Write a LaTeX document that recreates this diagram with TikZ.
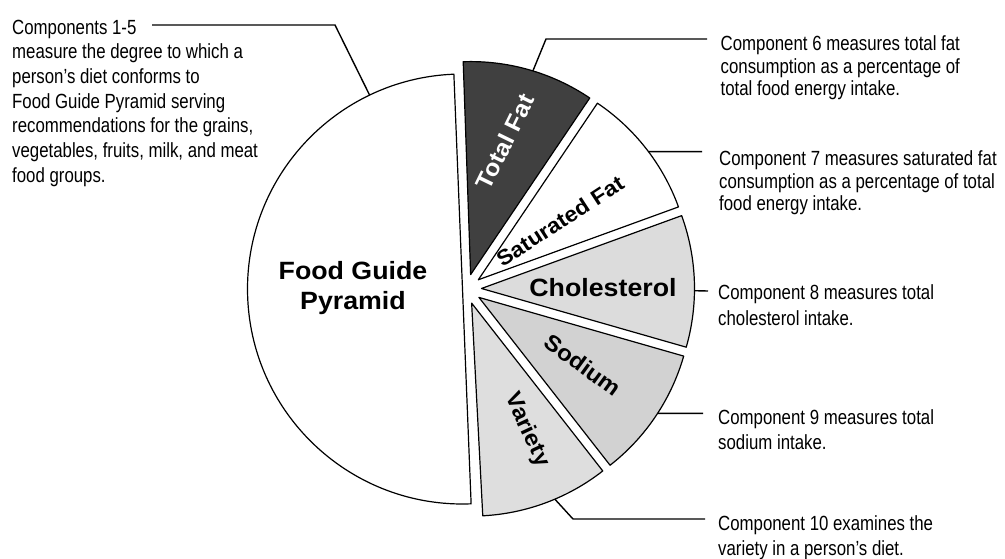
\documentclass[tikz,border=0pt]{standalone}
\usepackage{fontspec}
\setmainfont{Liberation Sans}
\newfontfamily\narrowfont[FakeStretch=0.82]{Liberation Sans}
\newfontfamily\boldlabelfont[FakeStretch=1.07]{Liberation Sans}
\usetikzlibrary{calc}
\definecolor{tfgray}{RGB}{64,64,64}
\definecolor{chgray}{RGB}{220,220,220}
\definecolor{sogray}{RGB}{210,210,210}
\definecolor{vagray}{RGB}{222,222,222}
\begin{document}
\begin{tikzpicture}[x=1pt,y=1pt,
  slice/.style={draw=black, line width=1.2pt, line join=round},
  leader/.style={draw=black, line width=1.4pt},
  desc/.style={align=left, anchor=north west, inner sep=0pt},
  lbl/.style={inner sep=0pt}]
\useasboundingbox (0,0) rectangle (1005,-558);
\fill[white] (0,0) rectangle (1005,-558);

% pie geometry
\coordinate (O) at (466.5,-289);
\coordinate (lh) at (462.5,-289);
\coordinate (tf) at ($(O)+(74:15)$);
\coordinate (sf) at ($(O)+(38:15)$);
\coordinate (ch) at ($(O)+(2:15)$);
\coordinate (so) at ($(O)+(-34:15)$);
\coordinate (va) at ($(O)+(-70:15)$);

\path[slice, fill=white] (lh) -- ($(lh)+(92.3:215)$) arc[start angle=92.3, end angle=272.3, radius=215] -- cycle;
\path[slice, fill=tfgray] (tf) -- ($(tf)+(56:213)$) arc[start angle=56, end angle=92, radius=213] -- cycle;
\path[slice, fill=white] (sf) -- ($(sf)+(20:213)$) arc[start angle=20, end angle=56, radius=213] -- cycle;
\path[slice, fill=chgray] (ch) -- ($(ch)+(-16:213)$) arc[start angle=-16, end angle=20, radius=213] -- cycle;
\path[slice, fill=sogray] (so) -- ($(so)+(-52:213)$) arc[start angle=-52, end angle=-16, radius=213] -- cycle;
\path[slice, fill=vagray] (va) -- ($(va)+(-87:213)$) arc[start angle=-87, end angle=-52, radius=213] -- cycle;

% slice labels
\node[lbl, font=\boldlabelfont\bfseries\fontsize{25}{30}\selectfont, align=center] (fgp) at (353,-288) {Food Guide\\Pyramid};
\node[lbl, text=white, rotate=64, font=\boldlabelfont\bfseries\fontsize{23.5}{28}\selectfont] (ltf) at (505,-142) {Total Fat};
\node[lbl, rotate=33, font=\boldlabelfont\bfseries\fontsize{21.5}{26}\selectfont] (lsf) at (560,-221) {Saturated Fat};
\node[lbl, font=\boldlabelfont\bfseries\fontsize{25}{30}\selectfont] (lch) at (603,-288) {Cholesterol};
\node[lbl, rotate=-36, font=\boldlabelfont\bfseries\fontsize{22.5}{27}\selectfont] (lso) at (583,-365) {Sodium};
\node[lbl, rotate=-65, font=\boldlabelfont\bfseries\fontsize{22.5}{27}\selectfont] (lva) at (527,-430) {Variety};

% descriptions
\node[desc, font=\narrowfont\fontsize{20.5}{24.7}\selectfont] (t15) at (12,-19.5)
  {Components 1-5\\measure the degree to which a\\person’s diet conforms to\\Food Guide Pyramid serving\\recommendations for the grains,\\vegetables, fruits, milk, and meat\\food groups.};
\node[desc, font=\narrowfont\fontsize{20.5}{22.5}\selectfont] (t6) at (720.5,-35.5)
  {Component 6 measures total fat\\consumption as a percentage of\\total food energy intake.};
\node[desc, font=\narrowfont\fontsize{20.5}{22.5}\selectfont] (t7) at (719,-150.5)
  {Component 7 measures saturated fat\\consumption as a percentage of total\\food energy intake.};
\node[desc, font=\narrowfont\fontsize{20.5}{26}\selectfont] (t8) at (718,-284.5)
  {Component 8 measures total\\cholesterol intake.};
\node[desc, font=\narrowfont\fontsize{20.5}{25}\selectfont] (t9) at (718,-409.5)
  {Component 9 measures total\\sodium intake.};
\node[desc, font=\narrowfont\fontsize{20.5}{25}\selectfont] (t10) at (718,-515.5)
  {Component 10 examines the\\variety in a person’s diet.};

% leaders
\coordinate (l1a) at ($(lh)+(115.6:215)$);
\coordinate (l1b) at (335,-25);
\coordinate (l1c) at (152,-25);
\draw[leader] (l1a) -- (l1b) -- (l1c);

\coordinate (l2a) at ($(tf)+(73:213)$);
\coordinate (l2b) at (546,-39);
\coordinate (l2c) at (707,-39);
\draw[leader] (l2a) -- (l2b) -- (l2c);

\coordinate (l3a) at ($(sf)+(37:213)$);
\coordinate (l3b) at (702,-151.6);
\draw[leader] (l3a) -- (l3b);

\coordinate (l4a) at ($(ch)+(-0.6:213)$);
\coordinate (l4b) at (708,-291);
\draw[leader] (l4a) -- (l4b);

\coordinate (l5a) at ($(so)+(-33:213)$);
\coordinate (l5b) at (703,-413.4);
\draw[leader] (l5a) -- (l5b);

\coordinate (l6a) at ($(va)+(-67:213)$);
\coordinate (l6b) at (573,-519);
\coordinate (l6c) at (705,-519);
\draw[leader] (l6a) -- (l6b) -- (l6c);
\end{tikzpicture}
\end{document}
